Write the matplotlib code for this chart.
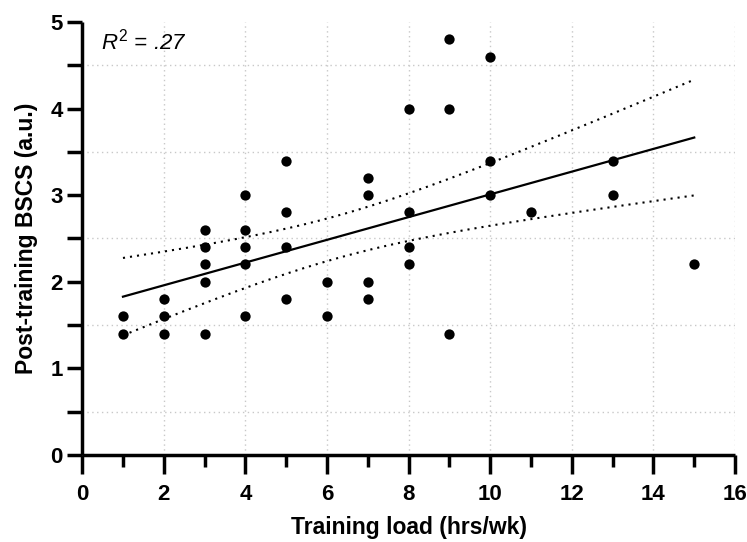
import numpy as np
import matplotlib
matplotlib.use("Agg")
import matplotlib.pyplot as plt
from matplotlib.ticker import MultipleLocator

# Data
load_hrs = [1, 1,
            2, 2, 2,
            3, 3, 3, 3, 3,
            4, 4, 4, 4, 4,
            5, 5, 5, 5,
            6, 6,
            7, 7, 7, 7,
            8, 8, 8, 8,
            9, 9, 9,
            10, 10, 10,
            11,
            13, 13,
            15]
bscs = [1.6, 1.4,
        1.8, 1.6, 1.4,
        2.6, 2.4, 2.2, 2.0, 1.4,
        3.0, 2.6, 2.4, 2.2, 1.6,
        3.4, 2.8, 2.4, 1.8,
        2.0, 1.6,
        3.2, 3.0, 2.0, 1.8,
        4.0, 2.8, 2.4, 2.2,
        4.8, 4.0, 1.4,
        4.6, 3.4, 3.0,
        2.8,
        3.4, 3.0,
        2.2]
x_ticks = [0, 2, 4, 6, 8, 10, 12, 14, 16]
y_ticks = [0, 1, 2, 3, 4, 5]
r2_label = "$R^2$ = .27"
t_crit = 2.026  # 95% two-sided, df = n - 2

plt.rcParams['font.family'] = ['Liberation Sans', 'DejaVu Sans']
plt.rcParams['mathtext.fontset'] = 'custom'
plt.rcParams['mathtext.it'] = 'Liberation Sans:italic'
plt.rcParams['mathtext.rm'] = 'Liberation Sans'

x = np.array(load_hrs, dtype=float)
y = np.array(bscs, dtype=float)
n = len(x)
slope, intercept = np.polyfit(x, y, 1)
xf = np.linspace(x.min(), x.max(), 200)
yf = intercept + slope * xf
resid = y - (intercept + slope * x)
s = np.sqrt(np.sum(resid ** 2) / (n - 2))
sxx = np.sum((x - x.mean()) ** 2)
se = s * np.sqrt(1.0 / n + (xf - x.mean()) ** 2 / sxx)
upper = yf + t_crit * se
lower = yf - t_crit * se

fig = plt.figure(figsize=(7.47, 5.42), dpi=100)
ax = fig.add_axes([0.110, 0.1605, 0.874, 0.799])

ax.scatter(x, y, s=55, color='black', zorder=3, linewidths=0)
ax.plot(xf, yf, color='black', lw=1.6, zorder=2)
ax.plot(xf, upper, color='black', lw=1.5, ls=(0, (1, 2.4)), zorder=2)
ax.plot(xf, lower, color='black', lw=1.5, ls=(0, (1, 2.4)), zorder=2)

ax.set_xlim(0, 16)
ax.set_ylim(0, 5)
ax.set_xticks(x_ticks)
ax.set_yticks(y_ticks)
ax.xaxis.set_minor_locator(MultipleLocator(1))
ax.yaxis.set_minor_locator(MultipleLocator(0.5))

ax.xaxis.grid(True, which='major', color='#c8c8c8', ls=(0, (1, 2.5)), lw=1.0)
ax.yaxis.grid(True, which='minor', color='#c8c8c8', ls=(0, (1, 2.5)), lw=1.0)
ax.set_axisbelow(True)

for side in ['top', 'right']:
    ax.spines[side].set_visible(False)
for side in ['left', 'bottom']:
    ax.spines[side].set_linewidth(2.5)
    ax.spines[side].set_capstyle('butt')

ax.tick_params(axis='x', which='major', length=14, width=2.5, labelsize=16, pad=7)
ax.tick_params(axis='x', which='minor', length=8.5, width=2.5)
ax.tick_params(axis='y', which='major', length=11, width=2.5, labelsize=16, pad=3)
ax.tick_params(axis='y', which='minor', length=11, width=2.5)
for lab in ax.get_xticklabels() + ax.get_yticklabels():
    lab.set_fontweight('bold')

ax.set_xlabel('Training load (hrs/wk)', fontsize=16.5, fontweight='bold', labelpad=8)
ax.set_ylabel('Post-training BSCS (a.u.)', fontsize=16.5, fontweight='bold', labelpad=9)

ax.text(0.45, 4.68, r2_label, fontsize=16, style='italic', ha='left', va='baseline')

fig.savefig('out.png', dpi=100)
